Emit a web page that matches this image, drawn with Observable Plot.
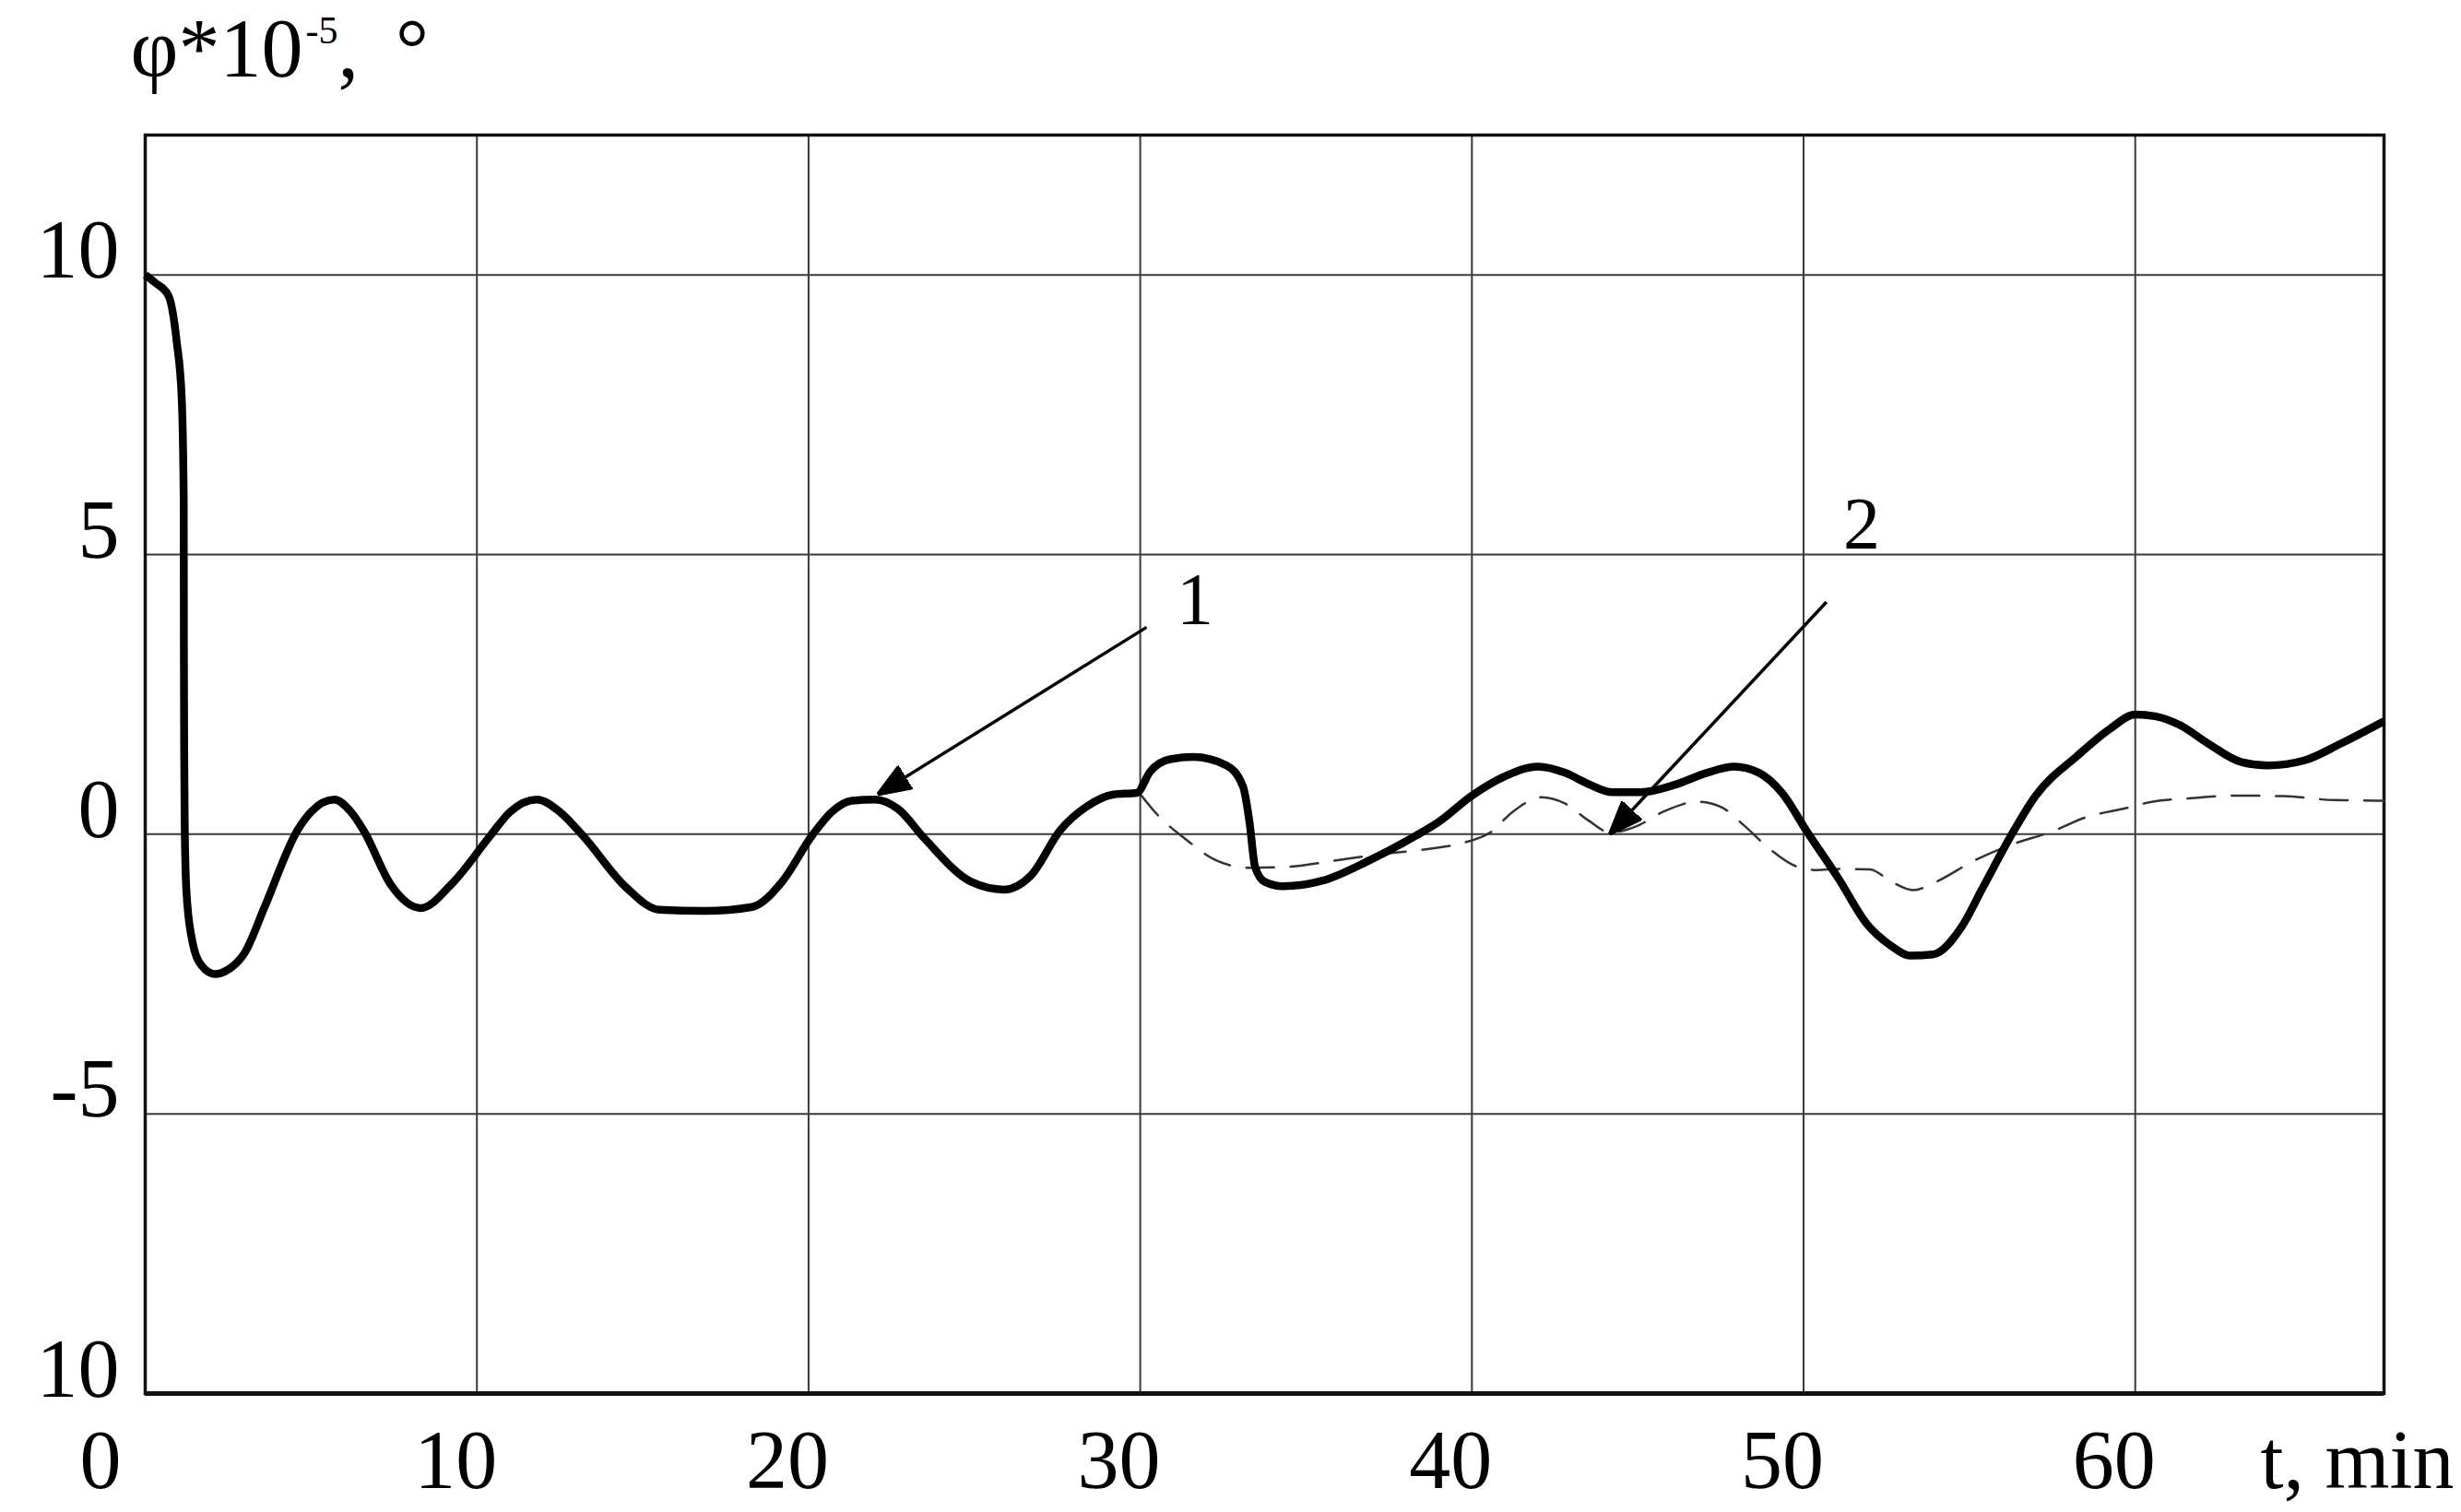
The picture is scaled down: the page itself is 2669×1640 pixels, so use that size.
<!DOCTYPE html>
<html>
<head>
<meta charset="utf-8">
<script src="https://cdn.jsdelivr.net/npm/d3@7"></script>
<script src="https://cdn.jsdelivr.net/npm/@observablehq/plot@0.6"></script>
<style>
  html, body { margin: 0; padding: 0; background: #fff; }
  #chart svg { display: block; }
</style>
</head>
<body>
<div id="chart"></div>
<script>
// ---- data ----
const curve1T = [0, 0.3, 0.7, 0.95, 1.1, 1.16, 1.165, 1.175, 1.19, 1.24, 1.4, 1.7, 2.1, 2.5, 3.0, 3.6, 4.6, 5.0, 5.7, 6.2, 6.6, 7.4, 8.3, 9.3, 10.4, 11.0, 11.8, 12.5, 13.2, 14.5, 15.5, 16.9, 18.3, 19.2, 20.1, 20.7, 21.3, 22.0, 22.7, 23.5, 24.9, 25.9, 26.7, 27.6, 28.4, 29.2, 29.9, 30.3, 30.9, 31.6, 32.6, 33.1, 33.3, 33.46, 33.75, 34.3, 35.5, 36.9, 38.3, 39.0, 40.0, 40.9, 42.0, 42.8, 43.5, 44.25, 45.1, 46.1, 47.1, 47.9, 48.65, 49.35, 50.1, 51.05, 51.9, 52.65, 53.2, 53.9, 54.75, 55.4, 56.25, 57.0, 58.25, 59.25, 60.0, 60.6, 61.35, 62.2, 63.2, 64.0, 65.1, 66.2, 67.5];
const curve1Phi = [10, 9.86, 9.63, 8.8, 7.8, 6.0, 3.5, 1.5, 0.2, -1.0, -1.85, -2.35, -2.5, -2.42, -2.12, -1.3, 0.08, 0.4, 0.62, 0.4, 0.05, -0.9, -1.32, -0.85, -0.03, 0.4, 0.62, 0.4, -0.03, -0.95, -1.35, -1.37, -1.3, -0.85, -0.03, 0.4, 0.6, 0.62, 0.45, -0.08, -0.85, -0.99, -0.74, 0.08, 0.5, 0.71, 0.74, 1.12, 1.34, 1.38, 1.23, 0.85, 0.19, -0.58, -0.85, -0.93, -0.83, -0.47, -0.03, 0.22, 0.69, 1.01, 1.21, 1.1, 0.9, 0.75, 0.75, 0.88, 1.1, 1.21, 1.1, 0.74, 0.05, -0.79, -1.6, -2.0, -2.17, -2.15, -1.67, -0.96, -0.03, 0.69, 1.4, 1.89, 2.14, 2.11, 1.95, 1.62, 1.29, 1.23, 1.32, 1.62, 2.02];

const curve2T = [30.0, 30.5, 31.35, 32.3, 33.3, 34.5, 35.9, 37.2, 38.6, 39.7, 40.55, 41.25, 42.1, 42.8, 43.5, 44.18, 44.95, 45.8, 46.8, 47.5, 48.2, 48.95, 49.8, 50.4, 51.05, 52.0, 52.65, 53.3, 54.0, 55.15, 56.25, 57.5, 58.5, 59.75, 60.5, 61.6, 63.0, 64.5, 66.0, 67.5];
const curve2Phi = [0.72, 0.36, -0.08, -0.47, -0.6, -0.58, -0.47, -0.36, -0.27, -0.16, 0.03, 0.41, 0.66, 0.55, 0.25, 0.03, 0.14, 0.41, 0.58, 0.49, 0.16, -0.25, -0.58, -0.64, -0.62, -0.63, -0.85, -1.0, -0.85, -0.47, -0.19, 0.05, 0.3, 0.47, 0.58, 0.64, 0.69, 0.68, 0.61, 0.6];

const xTicks = [10, 20, 30, 40, 50, 60];
const xZeroLabel = ["0"];
const yTickValues = [10, 5, 0, -5, -10];
const yTickLabels = ["10", "5", "0", "-5", "10"];
const yGrid = [10, 5, 0, -5];
const xLabel = "t, min";
const yLabel = "φ*10⁻⁵, °";

const curveNames = ["1", "2"];
const arrowFromT = [30.19, 50.69];
const arrowFromPhi = [3.70, 4.15];
const arrowToT = [22.08, 44.15];
const arrowToPhi = [0.71, 0.0];
const labelT = [31.65, 51.75];
const labelPhi = [3.75, 5.1];

// ---- tables built from the arrays ----
const line1 = curve1T.map((t, i) => ({t, phi: curve1Phi[i]}));
const line2 = curve2T.map((t, i) => ({t, phi: curve2Phi[i]}));
const yTicks = yTickValues.map((v, i) => ({v, label: yTickLabels[i]}));
const arrows = curveNames.map((n, i) => ({x1: arrowFromT[i], y1: arrowFromPhi[i], x2: arrowToT[i], y2: arrowToPhi[i]}));
const labels = curveNames.map((n, i) => ({t: labelT[i], phi: labelPhi[i], text: n}));

const FONT = "Liberation Serif, Times New Roman, serif";

function triangleMarker(color, context) {
  const doc = (context && context.document) || document;
  const ns = "http://www.w3.org/2000/svg";
  const m = doc.createElementNS(ns, "marker");
  m.setAttribute("viewBox", "-36 -15 36 30");
  m.setAttribute("markerWidth", 36);
  m.setAttribute("markerHeight", 30);
  m.setAttribute("markerUnits", "userSpaceOnUse");
  m.setAttribute("refX", 0);
  m.setAttribute("refY", 0);
  m.setAttribute("orient", "auto");
  const p = doc.createElementNS(ns, "path");
  p.setAttribute("d", "M0,0L-36,-14L-36,14Z");
  p.setAttribute("fill", color);
  m.appendChild(p);
  return m;
}

function build(marker) {
  return Plot.plot({
    width: 2669,
    height: 1640,
    marginLeft: 157,
    marginRight: 84,
    marginTop: 146,
    marginBottom: 129,
    style: {fontFamily: FONT, background: "#fff", color: "#000", overflow: "visible"},
    x: {domain: [0, 67.5], axis: null},
    y: {domain: [-10, 12.5], axis: null},
    marks: [
      Plot.ruleX(xTicks, {stroke: "#3a3a3a", strokeWidth: 2}),
      Plot.ruleY(yGrid, {stroke: "#3a3a3a", strokeWidth: 2}),
      Plot.frame({stroke: "#111", strokeWidth: 3.5}),
      Plot.ruleY([-10], {stroke: "#111", strokeWidth: 5}),
      Plot.line(line2, {x: "t", y: "phi", stroke: "#333", strokeWidth: 2.5, strokeDasharray: "30,18", curve: "monotone-x"}),
      Plot.line(line1, {x: "t", y: "phi", stroke: "#000", strokeWidth: 8.5, curve: "monotone-x", strokeLinejoin: "round", strokeLinecap: "butt"}),
      Plot.link(arrows, {x1: "x1", y1: "y1", x2: "x2", y2: "y2", stroke: "#000", strokeWidth: 3.5, markerEnd: marker}),
      Plot.text(labels, {x: "t", y: "phi", text: "text", fontSize: 80, textAnchor: "middle", lineAnchor: "bottom", fill: "#000"}),
      Plot.text(xTicks, {x: d => d, text: d => String(d), frameAnchor: "bottom", dy: 102, dx: 22, textAnchor: "end", lineAnchor: "bottom", fontSize: 90, fill: "#000"}),
      Plot.text(xZeroLabel, {frameAnchor: "bottom-left", text: d => d, dy: 102, dx: -26, textAnchor: "end", lineAnchor: "bottom", fontSize: 90, fill: "#000"}),
      Plot.text([xLabel], {frameAnchor: "bottom-right", text: d => d, dy: 102, dx: -134, textAnchor: "start", lineAnchor: "bottom", fontSize: 90, fill: "#000"}),
      Plot.text(yTicks, {y: "v", text: "label", frameAnchor: "left", dx: -28, dy: 3, textAnchor: "end", lineAnchor: "bottom", fontSize: 90, fill: "#000"}),
      Plot.text([yLabel], {frameAnchor: "top-left", text: d => d, dx: -16, dy: -64, textAnchor: "start", lineAnchor: "bottom", fontSize: 90, fill: "#000"})
    ]
  });
}

let chart;
try {
  chart = build(triangleMarker);
} catch (e) {
  chart = build("arrow");
}

// turn the superscript of the y label into a proper tspan (still real text)
d3.select(chart).selectAll("text").each(function () {
  if (this.textContent === yLabel) {
    const t = d3.select(this);
    t.text(null);
    t.append("tspan").text("φ*10");
    t.append("tspan").attr("font-size", 42).attr("dy", -36).attr("dx", 3).text("-5");
    t.append("tspan").attr("dy", 36).text(",");
    t.append("tspan").attr("dx", 40).text("°");
  }
});

document.getElementById("chart").appendChild(chart);
</script>
</body>
</html>
